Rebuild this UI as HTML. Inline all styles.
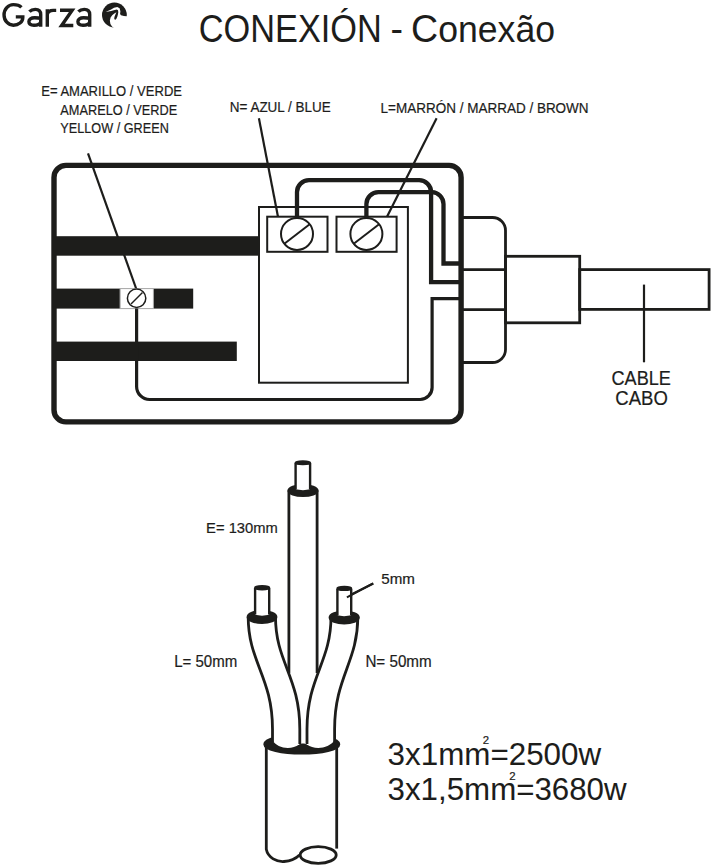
<!DOCTYPE html>
<html><head><meta charset="utf-8">
<style>
html,body{margin:0;padding:0;background:#fff;width:713px;height:868px;overflow:hidden}
svg{display:block}
text{font-family:"Liberation Sans",sans-serif;fill:#1d1d1b}
.lb text{stroke:#1d1d1b;stroke-width:0.2}
</style></head><body>
<svg width="713" height="868" viewBox="0 0 713 868">
<g fill="none" stroke="#1d1d1b" stroke-linecap="butt" stroke-linejoin="miter">

<!-- logo -->
<g stroke="#1d1d1b" stroke-width="3.4" fill="none"><path d="M21.4 7.3 C19.5 5.3 16.8 4.6 13.35 4.6 A9.3 10.3 0 0 0 4.05 14.9 A9.3 10.3 0 0 0 13.35 25.2 C18.6 25.2 22.8 22 22.8 17.5 V16.85 H15.8"/><path d="M29.4 11.6 C31 10 33 9.4 35.3 9.4 C39 9.4 40.7 11.2 40.7 14.6 V26.7 M40.7 18.6 C39.2 17.8 37.3 17.7 34.6 17.7 C31 17.7 28.9 19.3 28.9 21.6 C28.9 24.1 31 25.3 34 25.3 C37.6 25.3 40 24 40.7 22.2"/><path transform="translate(49 0)" d="M29.4 11.6 C31 10 33 9.4 35.3 9.4 C39 9.4 40.7 11.2 40.7 14.6 V26.7 M40.7 18.6 C39.2 17.8 37.3 17.7 34.6 17.7 C31 17.7 28.9 19.3 28.9 21.6 C28.9 24.1 31 25.3 34 25.3 C37.6 25.3 40 24 40.7 22.2"/><path d="M47.3 9.2 V26.7 M47.3 14.5 C48 11.4 50.5 10.4 53.2 10.4 H56.2"/><path d="M60 10.3 H72.2 L61.6 25.5 H73.3"/></g>
<circle cx="114.4" cy="15" r="12.4" fill="#1d1d1b" stroke="none"/><path d="M110.4 24.0 L109.85 20.4 L110.6 17.5 L112.2 15.3 L114.0 13.85 L116.4 12.2 L115.5 14.2 L114.6 16.4 L114.2 18.2 L114.6 19.5 L115.5 19.8 L116.4 18.8 L117.3 16.8 L117.9 14.6 L118.3 12.2 L118.0 10.2 L116.8 9.6 L114.8 10.0 L111.1 11.1 L105.65 12.0 L111.1 9.5 L114.0 7.65 L117.3 6.9 L119.6 8.3 L120.4 11.3 L120.1 13.9 L121.0 15.3 L123.9 15.9 L126.45 16.2 L130 16.2 L130 30 L114.5 30 L114.5 28.5 L112 26.5 Z" fill="#fff" stroke="none"/>

<!-- title -->
<g stroke="none" font-size="38.5"><text x="198.8" y="42" textLength="183" lengthAdjust="spacingAndGlyphs">CONEXIÓN</text><text x="390.5" y="42" textLength="12.5" lengthAdjust="spacingAndGlyphs">-</text><text x="411" y="42" textLength="144" lengthAdjust="spacingAndGlyphs">C<tspan font-size="36.5">onexão</tspan></text></g>

<!-- labels -->
<g class="lb" font-size="14">
<text x="41.2" y="95.8" textLength="140.8" lengthAdjust="spacingAndGlyphs">E= AMARILLO / VERDE</text>
<text x="60.3" y="114.9" textLength="117" lengthAdjust="spacingAndGlyphs">AMARELO / VERDE</text>
<text x="60.3" y="133.1" textLength="108.5" lengthAdjust="spacingAndGlyphs">YELLOW / GREEN</text>
<text x="229.8" y="112" textLength="101" lengthAdjust="spacingAndGlyphs">N= AZUL / BLUE</text>
<text x="380.6" y="113" textLength="208" lengthAdjust="spacingAndGlyphs">L=MARRÓN / MARRAD / BROWN</text>
<text x="611.5" y="385" font-size="20" textLength="59.4" lengthAdjust="spacingAndGlyphs">CABLE</text>
<text x="615.3" y="405" font-size="20" textLength="52.5" lengthAdjust="spacingAndGlyphs">CABO</text>
<text x="206.1" y="533.4" font-size="14.8" textLength="71.7" lengthAdjust="spacingAndGlyphs">E= 130mm</text>
<text x="381.3" y="584.4" textLength="33.7" lengthAdjust="spacingAndGlyphs">5mm</text>
<text x="174.2" y="667.2" font-size="15.6" textLength="63.1" lengthAdjust="spacingAndGlyphs">L= 50mm</text>
<text x="365.4" y="667.2" font-size="15.6" textLength="66.3" lengthAdjust="spacingAndGlyphs">N= 50mm</text>
<text x="387.6" y="764.8" font-size="31" style="stroke-width:0.05" textLength="213.5" lengthAdjust="spacingAndGlyphs">3x1mm=2500w</text>
<text x="387.6" y="800" font-size="31" style="stroke-width:0.05" textLength="239" lengthAdjust="spacingAndGlyphs">3x1,5mm=3680w</text>
<text x="482.8" y="743.6" font-size="11.4">2</text>
<text x="509.2" y="779.6" font-size="11.4">2</text>
</g>

<!-- leader lines -->
<g stroke-width="2.2">
<line x1="88" y1="153.4" x2="136.3" y2="289"/>
<line x1="258.9" y1="118.2" x2="278" y2="216.7"/>
<line x1="436.6" y1="118.2" x2="387" y2="216.7"/>
<line x1="644" y1="284.6" x2="644" y2="362.3"/>
<line x1="373.4" y1="583.6" x2="346.8" y2="596.7"/>
</g>

<!-- main box -->
<rect x="54" y="165.4" width="407.1" height="256.5" rx="12" stroke-width="5.4"/>

<!-- bars -->
<g fill="#1d1d1b" stroke="none">
<rect x="56" y="236.2" width="203" height="19.5"/>
<rect x="56" y="288.6" width="137.2" height="20"/>
<rect x="56" y="341.6" width="180.8" height="19.4"/>
</g>

<!-- ground screw block -->
<rect x="120.1" y="288.6" width="33.3" height="20" fill="#fff" stroke="#aaa" stroke-width="1"/>
<circle cx="136.6" cy="298.3" r="9.2" fill="#fff" stroke-width="1.5"/>
<line x1="131" y1="304" x2="142.5" y2="292.5" stroke-width="1.5"/>

<!-- ground wire -->
<path d="M136.6 308.6 V386.5 A13 13 0 0 0 149.6 399.5 H420.1 A12 12 0 0 0 432.1 387.5 V298.7 H459" stroke-width="3.2"/>

<!-- terminal block -->
<rect x="259" y="207" width="148.9" height="175.7" stroke-width="2"/>
<rect x="267.2" y="216.7" width="60.3" height="35.1" stroke-width="2"/>
<rect x="336.5" y="216.7" width="60.1" height="35.1" stroke-width="2"/>
<circle cx="297" cy="233.9" r="16" fill="#fff" stroke-width="2"/>
<circle cx="366.4" cy="233.9" r="16" fill="#fff" stroke-width="2"/>
<line x1="284" y1="244" x2="310" y2="224" stroke-width="2"/>
<line x1="353.4" y1="244" x2="379.4" y2="224" stroke-width="2"/>

<!-- wires -->
<path d="M297 217.9 V192 A12 12 0 0 1 309 180.2 H419 A12 12 0 0 1 431.1 192 V282.1 H459" stroke-width="4.3"/>
<path d="M366.4 217.9 V204 A12 12 0 0 1 378.4 192.2 H432 A12 12 0 0 1 443.5 204 V263.5 H459" stroke-width="4.3"/>

<!-- gland -->
<path d="M463 217.5 H492.5 A13 13 0 0 1 505.5 230.5 V349.5 A13 13 0 0 1 492.5 362.5 H463" stroke-width="2.8"/>
<line x1="463" y1="269.7" x2="505" y2="269.7" stroke-width="2.8"/>
<line x1="463" y1="309.7" x2="505" y2="309.7" stroke-width="2.8"/>
<rect x="505.5" y="256.3" width="74.2" height="66.5" stroke-width="2.8"/>
<rect x="579.7" y="269.6" width="129.4" height="39.8" stroke-width="2.8"/>

<!-- cable drawing -->
<g stroke-width="2.8">
<!-- jacket -->
<path d="M266.3 745 V849.3 C268 858 277 862 284 861.5 C290 861 296 858.5 299.5 855" />
<path d="M336.7 745 V848.6"/>
<ellipse cx="318.2" cy="855" rx="18" ry="8.3"/>
<ellipse cx="301.8" cy="744.2" rx="37" ry="8.8" fill="#1d1d1b" stroke-width="3"/>

<!-- central wire E -->
<ellipse cx="303" cy="490.6" rx="14.3" ry="5.2" fill="#1d1d1b" stroke-width="2.6"/>
<path d="M295.6 489 C300 490.5 306 490.5 310.1 489 V463 H295.6 Z" fill="#fff" stroke="none"/>
<path d="M295.6 489 V463 M310.1 463 V489" stroke-width="2.4"/>
<ellipse cx="302.85" cy="462.7" rx="7.3" ry="1.5" fill="#1d1d1b" stroke-width="2"/>
<path d="M288.9 490.6 V673 M317.1 490.6 V673"/>

<path d="M289 700 H317 V740 C312 744.5 310 745.5 307.5 745 C305 743 301 743 298.5 745 C296 745.5 292 744.5 289 740 Z" fill="#fff" stroke="none"/>
<!-- L wire -->
<path d="M248.2 617 C248.2 662 272.5 677 272.5 729 V740 C277 749 292 750 299 744.5 V729 C298.5 680 275.5 662 275.5 617 Z" fill="#fff" stroke="none"/>
<ellipse cx="262" cy="617" rx="14" ry="5.6" fill="#1d1d1b" stroke-width="2.8"/>
<path d="M255.1 614.5 C259 616 265 616 269.2 614.5 V588 H255.1 Z" fill="#fff" stroke="none"/>
<path d="M255.1 614.5 V588 M269.2 588 V614.5" stroke-width="2.4"/>
<ellipse cx="262.15" cy="587.8" rx="7" ry="1.6" fill="#1d1d1b" stroke-width="2.2"/>
<path d="M248.2 617 C248.2 662 272.5 677 272.5 729 V742"/>
<path d="M275.5 617 C275.5 662 299.8 677 299.8 729 V744"/>

<!-- N wire -->
<path d="M331 617 C331 662 307 677 307 729 V744.5 C314 750 329 749 334.6 740 V729 C334.6 677 357.8 662 357.8 617 Z" fill="#fff" stroke="none"/>
<ellipse cx="344.2" cy="617.5" rx="14.2" ry="5.6" fill="#1d1d1b" stroke-width="2.8"/>
<path d="M337.4 615 C341 616.5 347 616.5 351.2 615 V589 H337.4 Z" fill="#fff" stroke="none"/>
<path d="M337.4 615 V589 M351.2 589 V615" stroke-width="2.4"/>
<ellipse cx="344.3" cy="588.4" rx="6.9" ry="1.6" fill="#1d1d1b" stroke-width="2.2"/>
<path d="M331 617 C331 662 307 677 307 729 V744"/>
<path d="M357.8 617 C357.8 662 334.6 677 334.6 729 V742"/>
</g>
<line x1="373" y1="583.4" x2="346.9" y2="597.3" stroke-width="2"/>

</g>
</svg>
</body></html>
